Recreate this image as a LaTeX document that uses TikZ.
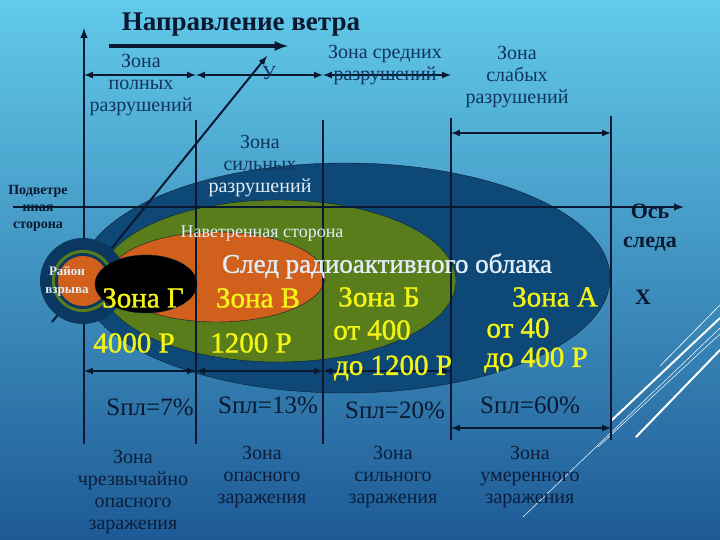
\documentclass[tikz,border=0pt]{standalone}
\usepackage{fontspec}
\setmainfont{Liberation Serif}
\newfontfamily\heavyfont[FakeBold=1.2]{Liberation Serif}

\definecolor{bgtop}{RGB}{98,202,234}
\definecolor{bgmid}{RGB}{55,150,200}
\definecolor{bgbot}{RGB}{30,90,150}
\definecolor{navy}{RGB}{18,52,92}
\definecolor{ink}{RGB}{10,24,48}
\definecolor{edge}{RGB}{10,30,50}
\definecolor{zoneA}{RGB}{14,72,118}
\definecolor{zoneB}{RGB}{90,125,28}
\definecolor{zoneV}{RGB}{208,96,28}
\definecolor{blast}{RGB}{11,56,96}
\definecolor{zoneyellow}{RGB}{245,245,20}
\definecolor{pale}{RGB}{225,238,248}

\tikzset{
  >=latex,
  axis/.style={line width=2.4pt,color=ink},
  bar/.style={line width=2.2pt,color=ink},
  dim/.style={line width=2pt,color=ink,<->},
  lbl/.style={text=navy,align=center,font=\fontsize{20}{22}\selectfont},
  yel/.style={text=zoneyellow,font=\heavyfont\fontsize{29}{30}\selectfont},
  sq/.style={text=ink,font=\fontsize{25}{26}\selectfont},
  deco/.style={white,line cap=round}
}

\begin{document}
\begin{tikzpicture}[x=1pt,y=-1pt]
  \shade[top color=bgtop,middle color=bgmid,bottom color=bgbot] (0,0) rectangle (720,540);
  \useasboundingbox (0,0) rectangle (720,540);

  % white strokes at the right
  \draw[deco,line width=2pt] (720,318) -- (612,420);
  \draw[deco,line width=0.6pt] (720,305) -- (660,366);
  \draw[deco,line width=2pt] (720,350) -- (636,437);
  \draw[deco,line width=0.5pt] (720,328) -- (523,517);
  \draw[deco,line width=0.5pt] (720,334) -- (598,447);

  % the trace of the cloud
  \filldraw[draw=edge,fill=zoneA] (345,278) ellipse [x radius=265pt,y radius=115pt];
  \filldraw[draw=edge,fill=zoneB] (278,281) ellipse [x radius=178pt,y radius=81pt];
  \filldraw[draw=edge,fill=zoneV] (217,277) ellipse [x radius=108pt,y radius=45pt];

  \node[text=ink,font=\bfseries\fontsize{14}{17}\selectfont,align=center] (lee) at (38,208)
    {Подветре\\нная\\сторона};

  % axes and bars
  \coordinate (yb) at (84,444);
  \coordinate (yt) at (84,28);
  \coordinate (ax0) at (13,207);
  \coordinate (ax1) at (684,207);
  \coordinate (d0) at (52,322);
  \coordinate (d1) at (267,56);
  \coordinate (w0) at (109,46);
  \coordinate (w1) at (288,46);
  \foreach \n/\x/\t/\b in {b1/196/120/444,b2/323/120/444,b3/451/118/440,b4/611/116/440}{
    \coordinate (\n t) at (\x,\t);
    \coordinate (\n b) at (\x,\b);
  }
  \foreach \n/\x in {t0/84,t1/196,t2/323,t3/451}{
    \coordinate (\n) at (\x,75);
  }
  \foreach \n/\x in {u0/84,u1/196,u2/323,u3/451}{
    \coordinate (\n) at (\x,371);
  }
  \coordinate (s0) at (451,133);
  \coordinate (s1) at (611,133);
  \coordinate (v0) at (451,428);
  \coordinate (v1) at (611,428);

  \draw[axis,->] (yb) -- (yt);
  \draw[axis,->] (ax0) -- (ax1);
  \draw[axis,->,line width=2pt] (d0) -- (d1);
  \draw[axis,->,line width=3.5pt] (w0) -- (w1);
  \foreach \n in {b1,b2,b3,b4}
    \draw[bar] (\n t) -- (\n b);

  \draw[dim] (t0) -- (t1);
  \draw[dim] (t1) -- (t2);
  \draw[dim] (t2) -- (t3);
  \draw[dim] (s0) -- (s1);
  \draw[dim] (u0) -- (u1);
  \draw[dim] (u1) -- (u2);
  \draw[dim] (u2) -- (u3);
  \draw[dim] (v0) -- (v1);

  % area of the explosion
  \fill[blast] (83,281) circle (43pt);
  \fill[zoneB] (83,281) circle (31pt);
  \fill[blast] (83,281) circle (28pt);
  \fill[zoneV] (83,281) circle (25pt);
  \filldraw[draw=edge,fill=black] (146,284) ellipse [x radius=51pt,y radius=29pt];

  % labels
  \node[text=ink,font=\bfseries\fontsize{27}{30}\selectfont] (wind) at (241,25) {Направление ветра};
  \node[lbl] (full) at (141,85) {Зона\\полных\\разрушений};
  \node[lbl] (mid) at (385,65) {Зона средних\\разрушений};
  \node[lbl] (weak) at (517,77) {Зона\\слабых\\разрушений};
  \node[lbl] (strong) at (260,166) {Зона\\сильных\\\textcolor{pale}{разрушений}};
  \node[text=navy,font=\fontsize{20}{22}\selectfont] (yname) at (269,73) {У};
  \node[text=ink,font=\bfseries\fontsize{22}{29}\selectfont,align=center] (trax) at (650,228) {Ось\\следа};
  \node[text=ink,font=\bfseries\fontsize{22}{24}\selectfont] (xname) at (643,297) {X};

  \node[text=pale,font=\fontsize{18}{20}\selectfont] (wwd) at (262,234) {Наветренная сторона};
  \node[text=pale,font=\heavyfont\fontsize{27}{28}\selectfont] (trace) at (387,266) {След радиоактивного облака};
  \node[text=pale,font=\bfseries\fontsize{13}{18}\selectfont,align=center] (blastlbl) at (67,281) {Район\\взрыва};

  \node[yel] (zG) at (143,298) {Зона Г};
  \node[yel] (pG) at (134,343) {4000 Р};
  \node[yel] (zV) at (258,298) {Зона В};
  \node[yel] (pV) at (251,343) {1200 Р};
  \node[yel] (zB) at (379,297) {Зона Б};
  \node[yel] (fB) at (372,330) {от 400};
  \node[yel] (tB) at (393,368) {до 1200 Р};
  \node[yel] (zA) at (555,297) {Зона А};
  \node[yel] (fA) at (518,328) {от 40};
  \node[yel] (tA) at (536,360) {до 400 Р};

  \node[sq] (sG) at (150,407) {Sпл=7\%};
  \node[sq] (sV) at (268,405) {Sпл=13\%};
  \node[sq] (sB) at (395,410) {Sпл=20\%};
  \node[sq] (sA) at (530,405) {Sпл=60\%};

  \node[lbl,text=ink!80!navy] (cG) at (133,492) {Зона\\чрезвычайно\\опасного\\заражения};
  \node[lbl,text=ink!80!navy] (cV) at (262,477) {Зона\\опасного\\заражения};
  \node[lbl,text=ink!80!navy] (cB) at (393,477) {Зона\\сильного\\заражения};
  \node[lbl,text=ink!80!navy] (cA) at (530,477) {Зона\\умеренного\\заражения};
\end{tikzpicture}
\end{document}
